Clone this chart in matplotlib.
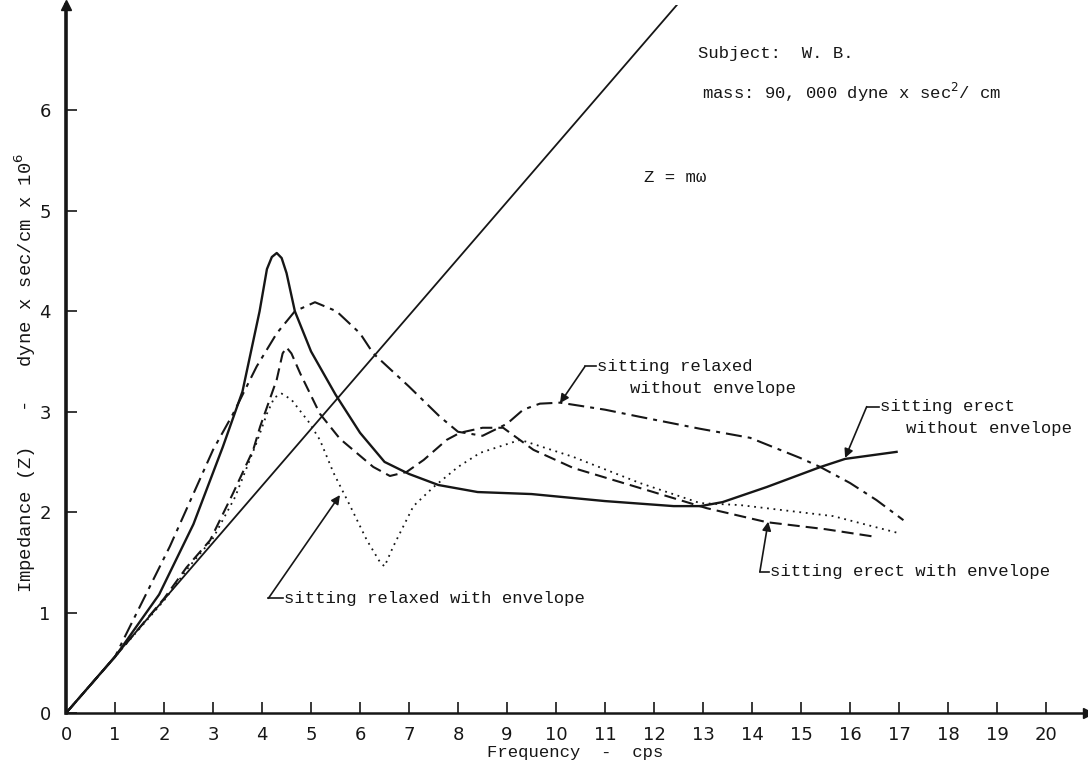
import matplotlib
matplotlib.use("Agg")
import matplotlib.pyplot as plt
import numpy as np

# Frequency (cps) and impedance (dyne x sec/cm x 10^6) readings
erect_free_f = [0, 1.0, 1.9, 2.6, 3.2, 3.6, 3.95, 4.1, 4.2, 4.3, 4.4, 4.5, 4.67, 5.0,
                5.5, 6.0, 6.5, 7.0, 7.6, 8.4, 9.5, 11.0, 12.4, 12.95, 13.4, 14.3,
                15.4, 15.9, 16.5, 16.95]
erect_free_z = [0, 0.56, 1.18, 1.88, 2.65, 3.2, 4.0, 4.42, 4.54, 4.58, 4.53, 4.38,
                4.0, 3.6, 3.17, 2.79, 2.5, 2.38, 2.27, 2.2, 2.18, 2.11, 2.06, 2.06,
                2.1, 2.25, 2.45, 2.53, 2.57, 2.6]

relaxed_free_f = [0, 1.0, 1.17, 2.12, 3.0, 3.41, 3.89, 4.3, 4.67, 5.08, 5.52, 6.0,
                  6.27, 7.0, 7.63, 8.0, 8.5, 9.0, 9.33, 9.67, 10.08, 11.0, 11.7,
                  12.94, 13.96, 14.98, 15.39, 16.0, 16.54, 17.09]
relaxed_free_z = [0, 0.56, 0.73, 1.66, 2.62, 2.98, 3.45, 3.78, 4.0, 4.09, 4.0, 3.78,
                  3.58, 3.25, 2.95, 2.8, 2.76, 2.88, 3.02, 3.08, 3.09, 3.02, 2.95,
                  2.83, 2.74, 2.54, 2.45, 2.29, 2.12, 1.92]

erect_env_f = [0, 1.0, 2.0, 2.46, 2.94, 3.41, 3.82, 3.96, 4.3, 4.42, 4.5, 4.6, 4.78,
               5.18, 5.59, 6.27, 6.61, 6.95, 7.3, 7.77, 8.04, 8.5, 8.92, 9.54, 10.35,
               11.85, 13.07, 14.3, 15.5, 16.44]
erect_env_z = [0, 0.56, 1.14, 1.45, 1.72, 2.19, 2.62, 2.85, 3.32, 3.58, 3.64, 3.58,
               3.38, 2.98, 2.73, 2.45, 2.36, 2.4, 2.52, 2.72, 2.79, 2.84, 2.84, 2.62,
               2.44, 2.22, 2.04, 1.9, 1.83, 1.76]

relaxed_env_f = [0, 1.0, 2.0, 2.5, 3.0, 3.45, 3.88, 4.1, 4.25, 4.4, 4.6, 4.95, 5.18,
                 5.46, 5.8, 6.14, 6.41, 6.5, 6.68, 7.09, 7.5, 8.0, 8.45, 9.27, 10.35,
                 11.71, 12.94, 13.76, 15.66, 17.0]
relaxed_env_z = [0, 0.56, 1.12, 1.45, 1.74, 2.15, 2.68, 2.98, 3.14, 3.18, 3.12, 2.9,
                 2.72, 2.39, 2.06, 1.72, 1.5, 1.46, 1.66, 2.06, 2.25, 2.45, 2.59,
                 2.72, 2.55, 2.29, 2.09, 2.07, 1.96, 1.79]

# Rigid-mass line Z = m*omega, m = 90,000 dyne x sec^2/cm
mass = 90000.0
mass_line_f = [0, 12.5]

x_ticks = list(range(0, 21))
y_ticks = [0, 1, 2, 3, 4, 5, 6]

ink = "#161616"
mono = ["Liberation Mono", "DejaVu Sans Mono"]
fs = 12.4

fig = plt.figure(figsize=(10.88, 7.68), dpi=100)
ax = fig.add_axes([0.0607, 0.0716, 0.939, 0.922])
ax.set_xlim(0, 20.85)
ax.set_ylim(0, 7.05)

mass_line_z = [mass * 2 * np.pi * f / 1e6 for f in mass_line_f]
ax.plot(mass_line_f, mass_line_z, color=ink, lw=1.3)

ax.plot(erect_free_f, erect_free_z, color=ink, lw=1.7, solid_joinstyle="round")
ax.plot(relaxed_free_f, relaxed_free_z, color=ink, lw=1.5,
        dashes=(7.7, 2.9, 1.9, 2.9))
ax.plot(erect_env_f, erect_env_z, color=ink, lw=1.5, dashes=(5.8, 2.9))
ax.plot(relaxed_env_f, relaxed_env_z, color=ink, lw=1.3, dashes=(1, 2.6))

# Axes drawn as arrows
for side in ("top", "right"):
    ax.spines[side].set_visible(False)
ax.spines["left"].set_linewidth(2.6)
ax.spines["bottom"].set_linewidth(1.8)
ax.spines["left"].set_color(ink)
ax.spines["bottom"].set_color(ink)
ax.plot(1, 0, ">", transform=ax.transAxes, color=ink, ms=7, clip_on=False)
ax.plot(0, 1, "^", transform=ax.transAxes, color=ink, ms=7, clip_on=False)

ax.set_xticks(x_ticks)
ax.set_xticklabels([str(t) for t in x_ticks])
ax.set_yticks(y_ticks)
ax.set_yticklabels([str(t) for t in y_ticks])
ax.tick_params(direction="in", length=8, width=1.2, color=ink, labelcolor=ink,
               labelsize=13)
ax.tick_params(axis="x", pad=9)
ax.tick_params(axis="y", pad=11)
for lab in ax.get_xticklabels() + ax.get_yticklabels():
    lab.set_family(["DejaVu Sans"])

ax.set_xlabel("Frequency  -  cps", family=mono, fontsize=fs, color=ink)
ax.xaxis.set_label_coords(0.498, -0.045)
ax.set_ylabel("Impedance (Z)   -   dyne x sec/cm x 10$^6$", family=mono,
              fontsize=13.6, color=ink)
ax.yaxis.set_label_coords(-0.027, 0.48)

ax.text(12.9, 6.57, "Subject:  W. B.", family=mono, fontsize=fs, color=ink,
        va="center")
ax.text(12.98, 6.18, "mass: 90, 000 dyne x sec$^2$/ cm", family=mono,
        fontsize=fs, color=ink, va="center")
ax.text(11.8, 5.33, "Z = m\u03c9", family=mono, fontsize=fs, color=ink,
        va="center")

# Curve labels: leader line with hook, arrow onto the curve
arrow = dict(arrowstyle="-|>", color=ink, lw=1.2, mutation_scale=13,
             shrinkA=0, shrinkB=0)


def leader(tip, start, hook_end):
    ax.annotate("", xy=tip, xytext=start, arrowprops=arrow)
    ax.plot([start[0], hook_end], [start[1], start[1]], color=ink, lw=1.2,
            clip_on=False)


leader((10.08, 3.085), (10.59, 3.45), 10.82)
ax.text(10.84, 3.45, "sitting relaxed", family=mono, fontsize=fs, color=ink,
        va="center")
ax.text(11.5, 3.23, "without envelope", family=mono, fontsize=fs, color=ink,
        va="center")

leader((15.9, 2.54), (16.34, 3.05), 16.6)
ax.text(16.62, 3.05, "sitting erect", family=mono, fontsize=fs, color=ink,
        va="center")
ax.text(17.14, 2.83, "without envelope", family=mono, fontsize=fs, color=ink,
        va="center")

leader((14.33, 1.905), (14.16, 1.407), 14.34)
ax.text(14.36, 1.407, "sitting erect with envelope", family=mono, fontsize=fs,
        color=ink, va="center")

leader((5.59, 2.17), (4.13, 1.142), 4.42)
ax.text(4.44, 1.142, "sitting relaxed with envelope", family=mono, fontsize=fs,
        color=ink, va="center")

fig.savefig("out.png", dpi=100)
